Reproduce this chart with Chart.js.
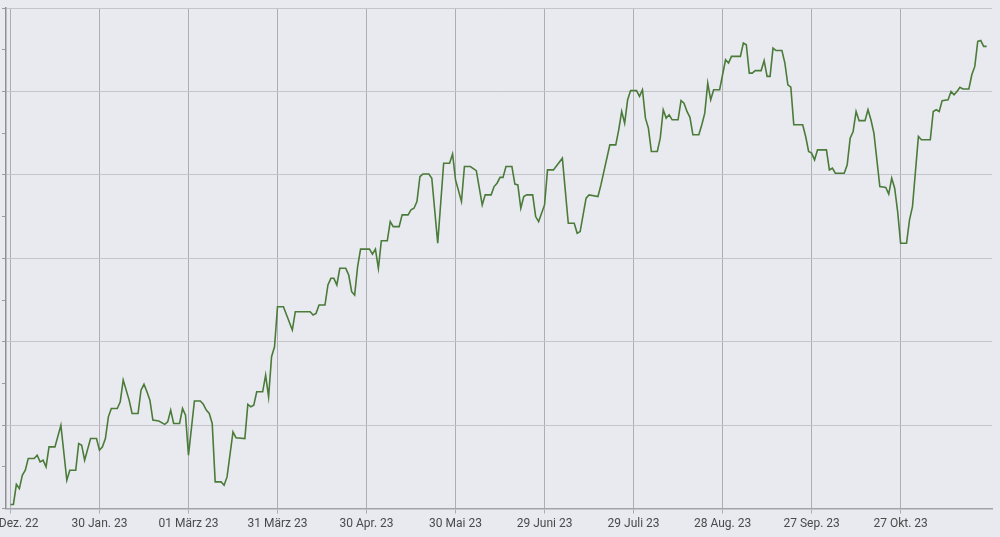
<!DOCTYPE html>
<html>
<head>
<meta charset="utf-8">
<script src="https://cdn.jsdelivr.net/npm/chart.js@4"></script>
<style>
  html, body { margin: 0; padding: 0; background: #e9eaf0; overflow: hidden; }
  #wrap { position: relative; width: 1000px; height: 537px; overflow: hidden; }
  #c { position: absolute; left: -40px; top: 0; }
</style>
</head>
<body>
<div id="wrap"><canvas id="c" width="1040" height="537"></canvas></div>
<script>
// Day offsets counted from 31 Dez. 2022
const days = [0,1,2,3,4,5,6,8,9,10,11,12,13,15,17,19,20,22,23,24,25,27,29,30,31,32,33,34,36,37,38,40,41,43,44,45,46,47,48,50,52,53,54,55,57,58,59,60,62,64,65,66,67,68,69,71,72,73,75,76,79,80,81,82,83,85,86,87,88,89,90,92,95,96,101,102,103,104,106,107,108,109,110,111,113,114,115,116,117,118,121,122,123,124,125,127,128,129,131,132,134,135,136,137,138,139,141,142,144,146,148,149,150,152,153,155,157,159,160,162,163,164,165,166,167,169,170,171,172,173,174,176,177,178,180,181,183,186,188,190,191,192,194,195,198,199,202,204,205,206,207,208,209,211,212,213,214,215,216,218,219,220,221,222,223,225,226,227,228,229,230,232,233,234,235,236,237,239,240,241,242,243,246,247,248,249,250,251,253,254,255,256,257,258,260,261,262,263,264,267,268,269,270,271,272,275,276,277,278,281,282,283,284,285,286,288,289,290,291,293,295,296,297,298,299,300,302,303,304,306,307,310,311,312,313,314,316,317,318,319,320,321,323,324,325,326,327,328,329];
const values = [0.5,0.5,2.9,2.4,4.0,4.6,6.0,6.0,6.4,5.6,5.8,5.0,7.4,7.4,10.0,3.4,4.6,4.6,7.8,7.6,5.8,8.4,8.4,7.0,7.4,8.4,11.0,12.0,12.0,12.8,15.4,13.0,11.4,11.4,14.2,14.9,14.0,13.0,10.6,10.5,10.1,10.4,11.8,10.2,10.2,12.0,11.2,6.4,12.9,12.9,12.5,11.8,11.4,10.2,3.2,3.2,2.8,3.8,9.2,8.5,8.4,12.5,12.2,12.4,14.0,14.0,16.0,13.4,18.2,19.4,24.2,24.2,21.4,23.6,23.6,23.2,23.4,24.4,24.4,26.8,27.6,27.6,26.8,28.8,28.8,28.0,26.0,25.6,29.0,31.1,31.1,30.5,31.1,28.8,32.1,32.1,34.4,33.8,33.8,35.2,35.2,35.8,36.0,36.8,39.8,40.1,40.1,39.6,31.8,41.4,41.4,42.5,39.4,36.8,41.0,41.0,40.5,36.4,37.6,37.6,38.6,39.0,39.7,39.7,41.0,41.0,38.9,38.8,36.0,37.4,37.6,37.6,35.0,34.4,36.4,40.6,40.6,42.0,34.2,34.2,33.0,33.2,37.2,37.6,37.4,38.8,43.6,43.6,45.4,47.6,46.2,49.0,50.1,50.1,49.4,50.2,46.8,45.6,42.8,42.8,44.4,47.8,46.8,47.2,46.6,46.6,48.9,48.6,47.6,46.9,44.8,44.8,46.0,47.4,51.0,49.0,50.2,50.2,52.0,53.8,53.4,54.2,54.2,55.8,55.6,52.2,52.2,52.5,52.5,53.7,51.8,51.8,55.2,54.9,54.9,53.4,50.8,50.5,46.0,46.0,44.6,42.8,42.6,41.8,43.0,43.0,40.6,40.8,40.2,40.2,41.2,44.4,45.2,47.6,46.5,46.5,47.8,46.6,45.0,38.6,38.5,37.7,39.6,38.4,35.6,31.8,31.8,34.6,36.2,44.6,44.2,44.2,47.6,47.8,47.6,48.9,49.0,50.0,49.6,50.0,50.5,50.3,50.3,52.0,53.0,56.0,56.1,55.4,55.4];
const xTickDays = [0,30,60,90,120,150,180,210,240,270,300];
const xTickLabels = ['31 Dez. 22','30 Jan. 23','01 März 23','31 März 23','30 Apr. 23','30 Mai 23','29 Juni 23','29 Juli 23','28 Aug. 23','27 Sep. 23','27 Okt. 23'];

const points = days.map((d, i) => ({ x: d, y: values[i] }));

new Chart(document.getElementById('c'), {
  type: 'line',
  data: {
    datasets: [{
      data: points,
      borderColor: '#4a7b39',
      borderWidth: 1.6,
      pointRadius: 0,
      tension: 0,
      fill: false
    }]
  },
  options: {
    responsive: false,
    animation: false,
    devicePixelRatio: 1,
    layout: { padding: { left: 42, right: 8, top: 8, bottom: 3 } },
    plugins: { legend: { display: false }, tooltip: { enabled: false } },
    scales: {
      x: {
        type: 'linear',
        min: -1.5,
        max: 330.8,
        afterBuildTicks: s => { s.ticks = xTickDays.map(v => ({ value: v })); },
        ticks: {
          autoSkip: false,
          maxRotation: 0,
          padding: 3,
          color: '#4a4a4a',
          font: { family: 'Roboto', size: 12 },
          callback: (v) => { const i = xTickDays.indexOf(v); return i >= 0 ? xTickLabels[i] : ''; }
        },
        grid: { color: '#adaeb4', tickLength: 5, lineWidth: 1 },
        border: { color: '#a3a4aa', width: 1.5 }
      },
      y: {
        min: 0,
        max: 60,
        ticks: { stepSize: 5, display: false },
        grid: {
          tickLength: 4,
          color: c => (c.tick && Math.round(c.tick.value) % 10 === 0) ? '#c4c5cb' : 'rgba(0,0,0,0)',
          tickColor: '#9a9ba1',
          lineWidth: 1
        },
        border: { color: '#8f9096', width: 1.5 }
      }
    }
  }
});
</script>
</body>
</html>
